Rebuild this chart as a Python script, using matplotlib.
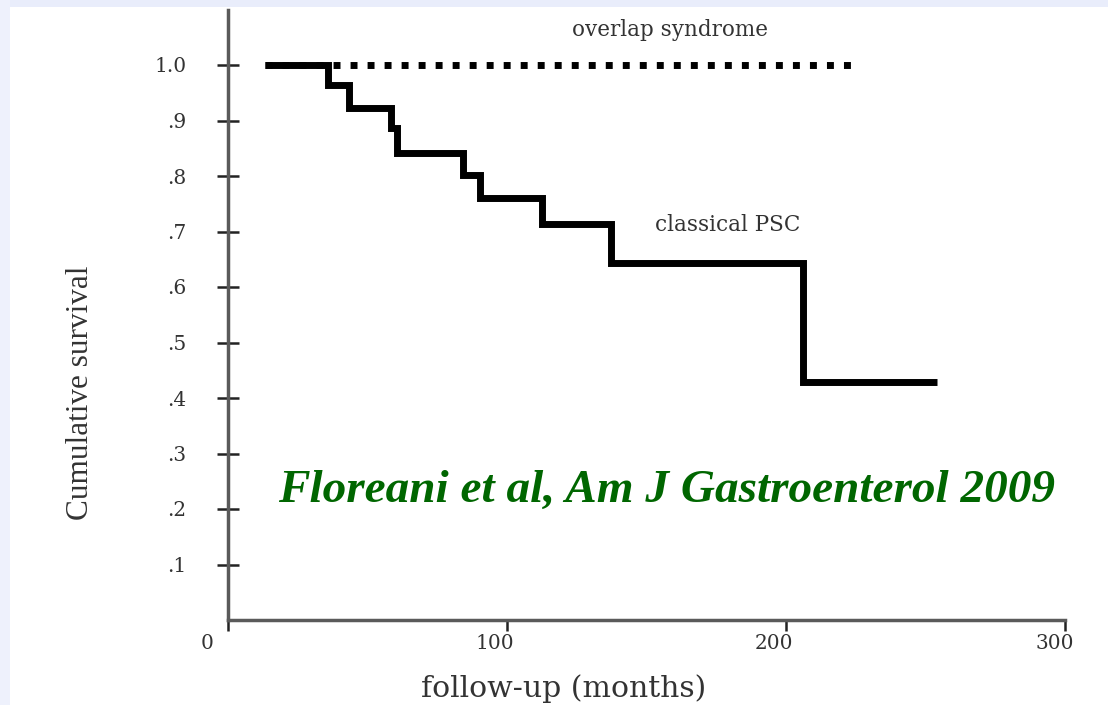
import matplotlib
matplotlib.use("Agg")
import matplotlib.pyplot as plt
from matplotlib.patches import Rectangle
from matplotlib.transforms import ScaledTranslation

# Data
overlap_months = [13.3, 224.7]
overlap_surv = [1.0, 1.0]

psc_months = [13.3, 35.8, 43.4, 58.4, 60.6, 84.2, 90.3, 112.5, 137.2, 206.1, 254.1]
psc_surv = [1.0, 0.964, 0.922, 0.886, 0.841, 0.802, 0.760, 0.713, 0.643, 0.429, 0.429]

yticks = [0.1, 0.2, 0.3, 0.4, 0.5, 0.6, 0.7, 0.8, 0.9, 1.0]
ytick_labels = [".1", ".2", ".3", ".4", ".5", ".6", ".7", ".8", ".9", "1.0"]
xticks = [0, 100, 200, 300]
xtick_labels = ["0", "100", "200", "300"]

wide_serif = ["DejaVu Serif"]
serif = ["Liberation Serif", "DejaVu Serif"]
axis_col = "#5a5a5a"
text_col = "#333333"

fig = plt.figure(figsize=(11.08, 7.05), dpi=100)
fig.patch.set_facecolor("white")
# slide-like border strips
fig.patches.append(Rectangle((0, 1 - 7 / 705), 1, 7 / 705, transform=fig.transFigure,
                             facecolor="#e9edfb", edgecolor="none", zorder=0))
fig.patches.append(Rectangle((0, 0), 10 / 1108, 1, transform=fig.transFigure,
                             facecolor="#eef1fc", edgecolor="none", zorder=0))

ax = fig.add_axes([228 / 1108, 1 - 620 / 705, (1065 - 228) / 1108, (620 - 9.5) / 705])
ax.set_xlim(0, 300)
ax.set_ylim(0, 1.1)

ax.plot(psc_months, psc_surv, drawstyle="steps-post", color="black", lw=5,
        solid_joinstyle="miter", solid_capstyle="butt", zorder=3)
ax.plot(overlap_months, overlap_surv, color="black", lw=5, linestyle=(0, (1, 1.45)),
        dash_capstyle="butt", zorder=4)

for side in ["top", "right"]:
    ax.spines[side].set_visible(False)
for side in ["left", "bottom"]:
    ax.spines[side].set_color(axis_col)
    ax.spines[side].set_linewidth(2.5)

ax.set_yticks(yticks)
ax.set_yticklabels(ytick_labels, fontfamily=wide_serif, fontsize=14.5, color=text_col)
ax.set_xticks(xticks)
ax.set_xticklabels(xtick_labels, fontfamily=wide_serif, fontsize=14.5, color=text_col)
ax.tick_params(axis="y", direction="inout", length=16, width=1.8, color="#222222", pad=22)
ax.tick_params(axis="x", direction="out", length=8, width=1.8, color="#222222", pad=2)

# shift x tick labels like the original
offsets = [-21, -12, -12, -10]
for lab, dx in zip(ax.get_xticklabels(), offsets):
    lab.set_transform(lab.get_transform() + ScaledTranslation(dx / 100, 0, fig.dpi_scale_trans))

ax.set_ylabel("Cumulative survival", fontfamily=serif, fontsize=22.5, color=text_col)
ax.yaxis.set_label_coords(-0.159, 0.373)
ax.set_xlabel("follow-up (months)", fontfamily=wide_serif, fontsize=21.5, color=text_col)
ax.xaxis.set_label_coords(0.401, -0.089)

ax.text(158.4, 1.063, "overlap syndrome", fontfamily=wide_serif, fontsize=15.5,
        color=text_col, ha="center", va="center")
ax.text(179.2, 0.712, "classical PSC", fontfamily=wide_serif, fontsize=15.5,
        color=text_col, ha="center", va="center")
ax.text(157.3, 0.232, "Floreani et al, Am J Gastroenterol 2009", fontfamily=serif,
        fontsize=34, fontweight="bold", fontstyle="italic", color="#006600",
        ha="center", va="center")

fig.savefig("out.png", dpi=100, facecolor=fig.get_facecolor())
